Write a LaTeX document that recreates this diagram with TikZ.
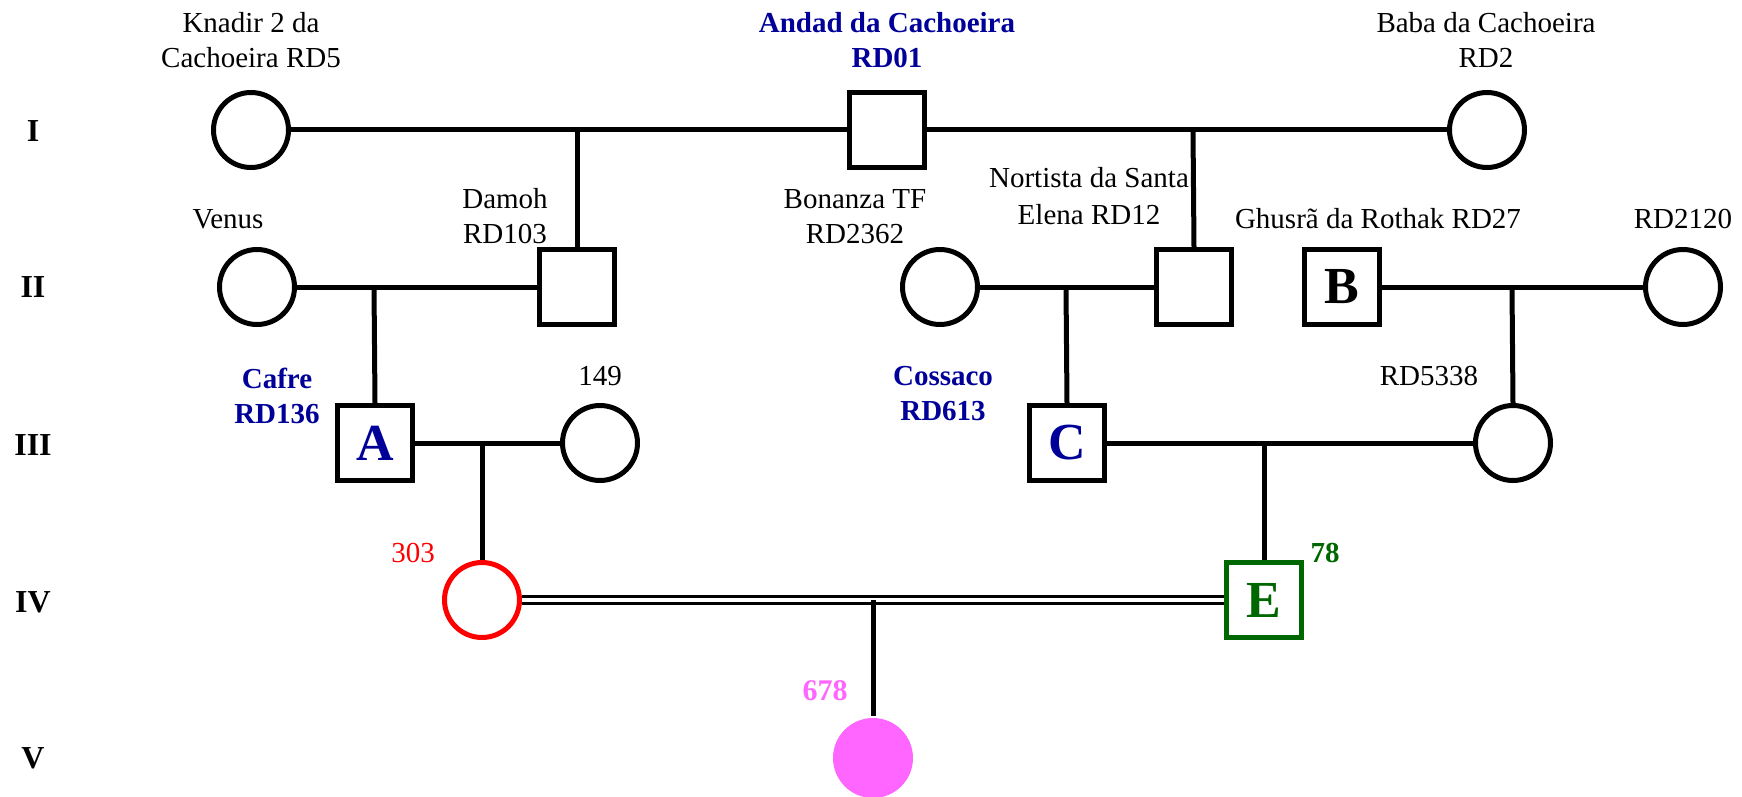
\documentclass[tikz,border=0pt]{standalone}
\usepackage{fontspec}
\setmainfont{Liberation Serif}
\definecolor{navy}{RGB}{0,0,153}
\definecolor{dgreen}{RGB}{0,102,0}
\definecolor{pinkf}{RGB}{255,102,255}
\begin{document}
\begin{tikzpicture}[x=0.5pt,y=-0.5pt,
  fem/.style={circle, draw, line width=2.5pt, minimum size=37.5pt, inner sep=0pt},
  mal/.style={rectangle, draw, line width=2.5pt, minimum size=37.5pt, inner sep=0pt},
  lnk/.style={line width=2.5pt},
  lbl/.style={font=\fontsize{14.5}{17}\selectfont, anchor=base, inner sep=0pt},
  blbl/.style={font=\fontsize{14.5}{17}\selectfont\bfseries, anchor=base, inner sep=0pt, text=navy},
  gen/.style={font=\fontsize{16}{18}\selectfont\bfseries, anchor=base, inner sep=0pt},
  letter/.style={font=\fontsize{26}{28}\selectfont\bfseries}
]
\useasboundingbox (0,0) rectangle (1742,797);

% generation numerals
\node[gen] (g1) at (33,141) {I};
\node[gen] (g2) at (33,297) {II};
\node[gen] (g3) at (33,455) {III};
\node[gen] (g4) at (33,612) {IV};
\node[gen] (g5) at (33,768) {V};

% generation I
\node[fem] (knadir) at (251,130) {};
\node[mal] (andad) at (887,130) {};
\node[fem] (baba) at (1487,130) {};

% generation II
\node[fem] (venus) at (257,287) {};
\node[mal] (damoh) at (577,287) {};
\node[fem] (bonanza) at (940,287) {};
\node[mal] (nortista) at (1194,287) {};
\node[mal, letter] (B) at (1342,287) {B};
\node[fem] (rd2120) at (1683,287) {};

% generation III
\node[mal, letter, text=navy] (A) at (375,443) {A};
\node[fem] (f149) at (600,443) {};
\node[mal, letter, text=navy] (C) at (1067,443) {C};
\node[fem] (rd5338) at (1513,443) {};

% generation IV
\node[fem, draw=red] (f303) at (482,600) {};
\node[mal, letter, draw=dgreen, text=dgreen] (E) at (1264,600) {E};

% generation V
\node[fem, draw=none, fill=pinkf, minimum size=40pt] (f678) at (873,758) {};

% labels
\node[lbl] (lk1) at (251,33) {Knadir 2 da};
\node[lbl] (lk2) at (251,68) {Cachoeira RD5};
\node[blbl] (la1) at (887,33) {Andad da Cachoeira};
\node[blbl] (la2) at (887,68) {RD01};
\node[lbl] (lb1) at (1486,33) {Baba da Cachoeira};
\node[lbl] (lb2) at (1486,68) {RD2};
\node[lbl] (ld1) at (505,208) {Damoh};
\node[lbl] (ld2) at (505,243) {RD103};
\node[lbl] (lv) at (228,228) {Venus};
\node[lbl] (lbo1) at (855,208) {Bonanza TF};
\node[lbl] (lbo2) at (855,243) {RD2362};
\node[lbl] (ln1) at (1089,188) {Nortista da Santa};
\node[lbl] (ln2) at (1089,225) {Elena RD12};
\node[lbl] (lg) at (1378,228) {Ghusrã da Rothak RD27};
\node[lbl] (lr2120) at (1683,228) {RD2120};
\node[blbl] (lc1) at (277,388) {Cafre};
\node[blbl] (lc2) at (277,423) {RD136};
\node[lbl] (l149) at (600,385) {149};
\node[blbl] (lco1) at (943,385) {Cossaco};
\node[blbl] (lco2) at (943,420) {RD613};
\node[lbl] (lr5338) at (1429,385) {RD5338};
\node[lbl, text=red] (l303) at (413,562) {303};
\node[lbl, font=\fontsize{14.5}{17}\selectfont\bfseries, text=dgreen] (l78) at (1325,562) {78};
\node[lbl, font=\fontsize{15}{17}\selectfont\bfseries, text=pinkf] (l678) at (825,700) {678};

% junction coordinates
\coordinate (j1) at (577,130);
\coordinate (j2) at (1193,130);
\coordinate (j3) at (374,287);
\coordinate (j4) at (1066,287);
\coordinate (j5) at (1512,287);
\coordinate (j6) at (482,443);
\coordinate (j7) at (1264,443);
\coordinate (j8) at (873,600);

% generation I marriages
\draw[lnk] (knadir.east) -- (andad.west);
\draw[lnk] (andad.east) -- (baba.west);
\draw[lnk] (j1) -- (damoh.north);
\draw[lnk] (j2) -- (nortista.north);

% generation II marriages
\draw[lnk] (venus.east) -- (damoh.west);
\draw[lnk] (j3) -- (A.north);
\draw[lnk] (bonanza.east) -- (nortista.west);
\draw[lnk] (j4) -- (C.north);
\draw[lnk] (B.east) -- (rd2120.west);
\draw[lnk] (j5) -- (rd5338.north);

% generation III marriages
\draw[lnk] (A.east) -- (f149.west);
\draw[lnk] (j6) -- (f303.north);
\draw[lnk] (C.east) -- (rd5338.west);
\draw[lnk] (j7) -- (E.north);

% consanguineous marriage
\draw[line width=1.7pt, double, double distance=2pt] (f303.east) -- (E.west);
\draw[lnk] (j8) -- (f678.north);
\end{tikzpicture}
\end{document}
